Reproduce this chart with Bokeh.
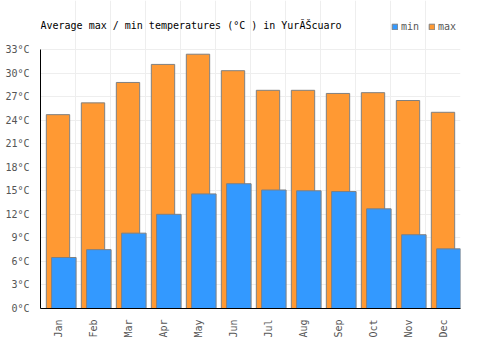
import numpy as np
from bokeh.plotting import figure
from bokeh.models import (ColumnDataSource, FixedTicker, Range1d, Legend, LegendItem, Label)
from bokeh.embed import file_html
from bokeh.resources import INLINE
from math import pi

months = ["Jan", "Feb", "Mar", "Apr", "May", "Jun", "Jul", "Aug", "Sep", "Oct", "Nov", "Dec"]
t_max = [24.7, 26.2, 28.8, 31.1, 32.4, 30.3, 27.8, 27.8, 27.4, 27.5, 26.5, 25.0]
t_min = [6.5, 7.5, 9.6, 12.0, 14.6, 15.9, 15.1, 15.0, 14.9, 12.7, 9.4, 7.6]
y_ticks = list(range(0, 34, 3))
title_text = "Average max / min temperatures (°C ) in YurĂŠcuaro"

FONT = "DejaVu Sans Mono"
FS = "10px"

Y_TOP = 33
# frame extends to canvas top so title/legend fit inside it; 33 sits 49px below the top
FRAME_H = 350 - 42
Y_END = Y_TOP * FRAME_H / (FRAME_H - 49)

idx = np.arange(len(months))
src = ColumnDataSource(dict(
    month=months,
    xmax=idx + 0.5,
    xmin=idx + 0.5 + 0.167,
    tmax=t_max,
    tmin=t_min,
))

p = figure(width=500, height=350, output_backend="svg", toolbar_location=None,
           x_range=Range1d(0, 12), y_range=Range1d(0, Y_END),
           min_border_left=40, min_border_right=40, min_border_top=0, min_border_bottom=42)

r_max = p.vbar(x="xmax", top="tmax", bottom=0, width=0.667, source=src,
               fill_color="#ff9933", line_color="#808080", line_width=1)
r_min = p.vbar(x="xmin", top="tmin", bottom=0, width=0.7, source=src,
               fill_color="#3399ff", line_color="#808080", line_width=1)

# axes
p.xaxis.ticker = FixedTicker(ticks=list(idx + 0.5))
p.xaxis.major_label_overrides = {float(i + 0.5): m for i, m in enumerate(months)}
p.xaxis.major_label_orientation = pi / 2
p.yaxis.ticker = FixedTicker(ticks=y_ticks)
p.yaxis.major_label_overrides = {t: f"{t}°C" for t in y_ticks}
p.yaxis.bounds = (0, Y_TOP)
for ax in (p.xaxis, p.yaxis):
    ax.axis_line_color = "black"
    ax.axis_line_width = 1
    ax.major_tick_line_color = None
    ax.minor_tick_line_color = None
    ax.major_label_text_font = FONT
    ax.major_label_text_font_size = FS
    ax.major_label_text_color = "#555555"
    ax.major_label_standoff = 5

p.xgrid.ticker = FixedTicker(ticks=list(range(1, 13)))
p.xgrid.bounds = (0, Y_TOP)
p.xgrid.grid_line_color = "#eeeeee"
p.ygrid.grid_line_color = "#eeeeee"
p.outline_line_color = None
p.background_fill_color = "white"

title = Label(x=0, y=FRAME_H - 25, x_units="screen", y_units="screen", text=title_text,
              text_font=FONT, text_font_size=FS, text_color="black", text_baseline="middle")
p.add_layout(title)

legend = Legend(items=[LegendItem(label="min", renderers=[r_min]),
                       LegendItem(label="max", renderers=[r_max])],
                orientation="horizontal", location=(351, FRAME_H - 32),
                label_text_font=FONT, label_text_font_size=FS,
                label_text_color="#555555", glyph_width=7, glyph_height=7,
                spacing=7, label_standoff=3, padding=0, margin=0,
                border_line_color=None, background_fill_alpha=0)
p.add_layout(legend)

open("out.html", "w").write(file_html(p, INLINE))
